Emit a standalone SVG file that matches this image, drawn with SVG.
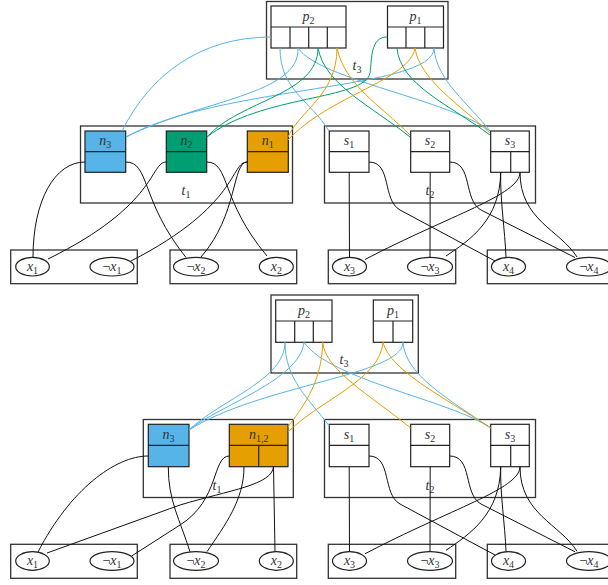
<svg xmlns="http://www.w3.org/2000/svg" width="608" height="585" viewBox="0 0 608 585">
<style>
.gad{fill:none;stroke:#333;stroke-width:1.3}
.box{fill:#fff;stroke:#222;stroke-width:1.2}
.cb{fill:#56B4E9;stroke:#222;stroke-width:1.2}
.cg{fill:#009E73;stroke:#222;stroke-width:1.2}
.co{fill:#E69F00;stroke:#222;stroke-width:1.2}
.ln{fill:none;stroke:#222;stroke-width:1.2}
.lit{fill:#fff;stroke:#222;stroke-width:1.2}
text{font-family:"Liberation Serif","DejaVu Serif",serif;font-size:14px;font-style:italic;fill:#333;text-anchor:middle}
.s{font-size:10px;font-style:normal}
.n{font-style:normal}
.e{fill:none;stroke:#111;stroke-width:1}
.eb{fill:none;stroke:#56B4E9;stroke-width:1}
.eg{fill:none;stroke:#009E73;stroke-width:1}
.eo{fill:none;stroke:#E69F00;stroke-width:1}
</style>
<!-- ===== TOP DIAGRAM ===== -->
<g id="t3a">
<rect class="gad" x="266.5" y="1.5" width="181.5" height="77.5"/>
<text x="357" y="70">t<tspan class="s" dy="3">3</tspan></text>
</g>
<g id="p2a">
<rect class="box" x="271" y="6" width="75" height="42"/>
<line class="ln" x1="271" y1="27" x2="346" y2="27"/>
<line class="ln" x1="290" y1="27" x2="290" y2="48"/>
<line class="ln" x1="308.7" y1="27" x2="308.7" y2="48"/>
<line class="ln" x1="327.3" y1="27" x2="327.3" y2="48"/>
<text x="308.5" y="21">p<tspan class="s" dy="3">2</tspan></text>
</g>
<g id="p1a">
<rect class="box" x="387.5" y="6" width="56" height="42"/>
<line class="ln" x1="387.5" y1="27" x2="443.5" y2="27"/>
<line class="ln" x1="406" y1="27" x2="406" y2="48"/>
<line class="ln" x1="424.8" y1="27" x2="424.8" y2="48"/>
<text x="415.5" y="21">p<tspan class="s" dy="3">1</tspan></text>
</g>
<g id="t1a">
<rect class="gad" x="80.5" y="126" width="212" height="77"/>
<text x="186" y="195">t<tspan class="s" dy="3">1</tspan></text>
</g>
<g id="n3a">
<rect class="cb" x="85" y="131" width="40.7" height="41.3"/>
<line class="ln" x1="85" y1="151.7" x2="125.7" y2="151.7"/>
<text x="105.3" y="145">n<tspan class="s" dy="3">3</tspan></text>
</g>
<g id="n2a">
<rect class="cg" x="166.3" y="131" width="40.4" height="41.3"/>
<line class="ln" x1="166.3" y1="151.7" x2="206.7" y2="151.7"/>
<text x="186.5" y="145">n<tspan class="s" dy="3">2</tspan></text>
</g>
<g id="n1a">
<rect class="co" x="247.3" y="131" width="41" height="41.3"/>
<line class="ln" x1="247.3" y1="151.7" x2="288.3" y2="151.7"/>
<text x="267.8" y="145">n<tspan class="s" dy="3">1</tspan></text>
</g>
<g id="t2a">
<rect class="gad" x="324.5" y="126" width="211" height="77"/>
<text x="430" y="195">t<tspan class="s" dy="3">2</tspan></text>
</g>
<g id="s1a">
<rect class="box" x="329.3" y="131" width="39.7" height="41.3"/>
<line class="ln" x1="329.3" y1="151.7" x2="369" y2="151.7"/>
<text x="349" y="145">s<tspan class="s" dy="3">1</tspan></text>
</g>
<g id="s2a">
<rect class="box" x="410.7" y="131" width="39" height="41.3"/>
<line class="ln" x1="410.7" y1="151.7" x2="449.7" y2="151.7"/>
<text x="430" y="145">s<tspan class="s" dy="3">2</tspan></text>
</g>
<g id="s3a">
<rect class="box" x="490.7" y="131" width="38.6" height="41.3"/>
<line class="ln" x1="490.7" y1="151.7" x2="529.3" y2="151.7"/>
<line class="ln" x1="510.7" y1="151.7" x2="510.7" y2="172.3"/>
<text x="510" y="145">s<tspan class="s" dy="3">3</tspan></text>
</g>
<g id="v1a">
<rect class="gad" x="10.7" y="250" width="126.6" height="33.7"/>
<ellipse class="lit" cx="32.5" cy="266.7" rx="16.8" ry="9.3"/>
<text x="32.5" y="271">x<tspan class="s" dy="3">1</tspan></text>
<ellipse class="lit" cx="112" cy="266.7" rx="22" ry="9.3"/>
<text x="112" y="271"><tspan class="n">¬</tspan>x<tspan class="s" dy="3">1</tspan></text>
</g>
<g id="v2a">
<rect class="gad" x="170" y="250" width="126.7" height="33.7"/>
<ellipse class="lit" cx="196" cy="266.7" rx="22.5" ry="9.3"/>
<text x="196" y="271"><tspan class="n">¬</tspan>x<tspan class="s" dy="3">2</tspan></text>
<ellipse class="lit" cx="276.3" cy="266.7" rx="17" ry="9.3"/>
<text x="276.3" y="271">x<tspan class="s" dy="3">2</tspan></text>
</g>
<g id="v3a">
<rect class="gad" x="328.3" y="250" width="127.4" height="33.7"/>
<ellipse class="lit" cx="349.5" cy="266.7" rx="17" ry="9.3"/>
<text x="349.5" y="271">x<tspan class="s" dy="3">3</tspan></text>
<ellipse class="lit" cx="430" cy="266.7" rx="22.5" ry="9.3"/>
<text x="430" y="271"><tspan class="n">¬</tspan>x<tspan class="s" dy="3">3</tspan></text>
</g>
<g id="v4a">
<rect class="gad" x="487.3" y="250" width="127.4" height="33.7"/>
<ellipse class="lit" cx="508.5" cy="266.7" rx="17" ry="9.3"/>
<text x="508.5" y="271">x<tspan class="s" dy="3">4</tspan></text>
<ellipse class="lit" cx="589" cy="266.7" rx="22.5" ry="9.3"/>
<text x="589" y="271"><tspan class="n">¬</tspan>x<tspan class="s" dy="3">4</tspan></text>
</g>
<g id="edgesA">
<path class="eb" d="M271,37 C200,37 150,75 122,131"/>
<path class="eb" d="M298,48 C300,95 200,100 126,137"/>
<path class="eb" d="M434,48 C434,90 220,85 126,137"/>
<path class="eb" d="M280,48 C280,90 310,100 329,131"/>
<path class="eb" d="M298,48 C320,80 450,100 490,131"/>
<path class="eb" d="M434,48 C436,80 470,105 490,131"/>
<path class="eg" d="M318,48 C318,95 240,100 207,137"/>
<path class="eg" d="M318,48 C325,85 370,105 410,137"/>
<path class="eg" d="M387,37 C370,37 372,60 370,73 C365,100 260,95 207,137"/>
<path class="eg" d="M397,48 C400,85 450,105 490,135"/>
<path class="eo" d="M337,48 C337,95 300,110 288,137"/>
<path class="eo" d="M337,48 C345,85 380,105 410,135"/>
<path class="eo" d="M415,48 C410,80 330,95 288,140"/>
<path class="eo" d="M415,48 C420,80 460,105 490,133"/>
<path class="e" d="M85,162 C55,162 33,200 33,257.4"/>
<path class="e" d="M125.7,162 C150,162 140,200 186,257.5"/>
<path class="e" d="M166.3,162 C150,162 158,205 48,259"/>
<path class="e" d="M247.3,162 C230,162 240,205 131,261"/>
<path class="e" d="M247.3,162 C232,162 238,215 201,257"/>
<path class="e" d="M206.7,162 C230,162 220,200 267,256"/>
<path class="e" d="M349.2,172.3 L349.5,257.4"/>
<path class="e" d="M369,162 C392,162 382,200 400,210 L495,261"/>
<path class="e" d="M430.2,172.3 L430,257.4"/>
<path class="e" d="M449.7,162 C473,162 463,200 481,210 L575,257.5"/>
<path class="e" d="M500.7,172.3 C500,220 470,240 446,256"/>
<path class="e" d="M500.7,172.3 C500,200 505,230 506,257.5"/>
<path class="e" d="M520,172.3 C520,195 450,215 365,259.5"/>
<path class="e" d="M520,172.3 C520,220 560,230 577,257"/>
</g>
<!-- ===== BOTTOM DIAGRAM ===== -->
<g id="t3b">
<rect class="gad" x="271" y="295" width="147.3" height="78"/>
<text x="344" y="364">t<tspan class="s" dy="3">3</tspan></text>
</g>
<g id="p2b">
<rect class="box" x="275.7" y="300" width="56.3" height="42.3"/>
<line class="ln" x1="275.7" y1="321" x2="332" y2="321"/>
<line class="ln" x1="294.7" y1="321" x2="294.7" y2="342.3"/>
<line class="ln" x1="313.3" y1="321" x2="313.3" y2="342.3"/>
<text x="304" y="315">p<tspan class="s" dy="3">2</tspan></text>
</g>
<g id="p1b">
<rect class="box" x="373.3" y="300" width="39.4" height="42.3"/>
<line class="ln" x1="373.3" y1="321" x2="412.7" y2="321"/>
<line class="ln" x1="393" y1="321" x2="393" y2="342.3"/>
<text x="393" y="315">p<tspan class="s" dy="3">1</tspan></text>
</g>
<g id="t1b">
<rect class="gad" x="143.3" y="419.5" width="150" height="78"/>
<text x="217" y="490">t<tspan class="s" dy="3">1</tspan></text>
</g>
<g id="n3b">
<rect class="cb" x="148.3" y="424.3" width="40.7" height="42.4"/>
<line class="ln" x1="148.3" y1="445.3" x2="189" y2="445.3"/>
<text x="168.6" y="439">n<tspan class="s" dy="3">3</tspan></text>
</g>
<g id="n12b">
<rect class="co" x="229.3" y="424.3" width="58.7" height="42.4"/>
<line class="ln" x1="229.3" y1="445.3" x2="288" y2="445.3"/>
<line class="ln" x1="258.7" y1="445.3" x2="258.7" y2="466.7"/>
<text x="258.7" y="439">n<tspan class="s" dy="3">1,2</tspan></text>
</g>
<g id="t2b">
<rect class="gad" x="324.5" y="419.5" width="211" height="78"/>
<text x="430" y="490">t<tspan class="s" dy="3">2</tspan></text>
</g>
<g id="s1b">
<rect class="box" x="329.3" y="424.3" width="39.7" height="42.4"/>
<line class="ln" x1="329.3" y1="445.3" x2="369" y2="445.3"/>
<text x="349" y="439">s<tspan class="s" dy="3">1</tspan></text>
</g>
<g id="s2b">
<rect class="box" x="410.7" y="424.3" width="39" height="42.4"/>
<line class="ln" x1="410.7" y1="445.3" x2="449.7" y2="445.3"/>
<text x="430" y="439">s<tspan class="s" dy="3">2</tspan></text>
</g>
<g id="s3b">
<rect class="box" x="490.7" y="424.3" width="38.6" height="42.4"/>
<line class="ln" x1="490.7" y1="445.3" x2="529.3" y2="445.3"/>
<line class="ln" x1="510.7" y1="445.3" x2="510.7" y2="466.7"/>
<text x="510" y="439">s<tspan class="s" dy="3">3</tspan></text>
</g>
<g id="v1b">
<rect class="gad" x="10.7" y="544.3" width="126.6" height="34"/>
<ellipse class="lit" cx="32.5" cy="561" rx="16.8" ry="9.3"/>
<text x="32.5" y="565">x<tspan class="s" dy="3">1</tspan></text>
<ellipse class="lit" cx="112" cy="561" rx="22" ry="9.3"/>
<text x="112" y="565"><tspan class="n">¬</tspan>x<tspan class="s" dy="3">1</tspan></text>
</g>
<g id="v2b">
<rect class="gad" x="170" y="544.3" width="126.7" height="34"/>
<ellipse class="lit" cx="196" cy="561" rx="22.5" ry="9.3"/>
<text x="196" y="565"><tspan class="n">¬</tspan>x<tspan class="s" dy="3">2</tspan></text>
<ellipse class="lit" cx="276.3" cy="561" rx="17" ry="9.3"/>
<text x="276.3" y="565">x<tspan class="s" dy="3">2</tspan></text>
</g>
<g id="v3b">
<rect class="gad" x="328.3" y="544.3" width="127.4" height="34"/>
<ellipse class="lit" cx="349.5" cy="561" rx="17" ry="9.3"/>
<text x="349.5" y="565">x<tspan class="s" dy="3">3</tspan></text>
<ellipse class="lit" cx="430" cy="561" rx="22.5" ry="9.3"/>
<text x="430" y="565"><tspan class="n">¬</tspan>x<tspan class="s" dy="3">3</tspan></text>
</g>
<g id="v4b">
<rect class="gad" x="487.3" y="544.3" width="127.4" height="34"/>
<ellipse class="lit" cx="508.5" cy="561" rx="17" ry="9.3"/>
<text x="508.5" y="565">x<tspan class="s" dy="3">4</tspan></text>
<ellipse class="lit" cx="589" cy="561" rx="22.5" ry="9.3"/>
<text x="589" y="565"><tspan class="n">¬</tspan>x<tspan class="s" dy="3">4</tspan></text>
</g>
<g id="edgesB">
<path class="eb" d="M285,342.3 C285,380 220,400 189,430"/>
<path class="eb" d="M304,342.3 C300,380 220,405 189,430"/>
<path class="eb" d="M403,342.3 C403,375 260,385 189,430"/>
<path class="eb" d="M285,342.3 C285,380 310,400 329.3,426"/>
<path class="eb" d="M304,342.3 C330,380 450,400 490.7,428"/>
<path class="eb" d="M403,342.3 C405,375 450,400 490.7,428"/>
<path class="eo" d="M322.7,342.3 C322,385 300,410 288,427"/>
<path class="eo" d="M322.7,342.3 C325,370 370,395 410.7,428"/>
<path class="eo" d="M383,342.3 C380,380 320,400 288,432"/>
<path class="eo" d="M383,342.3 C390,370 440,395 490.7,428"/>
<path class="e" d="M148.3,456 C115,456 70,490 38,552"/>
<path class="e" d="M168.3,466.7 C168,500 180,520 190,551.7"/>
<path class="e" d="M229.3,456 C212,456 220,500 180,525 L131.7,556"/>
<path class="e" d="M244,466.7 C244,500 225,525 207,551.7"/>
<path class="e" d="M273.5,466.7 L275,551.7"/>
<path class="e" d="M273.5,466.7 C272,485 230,490 180,505 L47,553"/>
<path class="e" d="M349.2,466.7 L349.5,551.7"/>
<path class="e" d="M369,456 C392,456 382,494 400,504 L495,555"/>
<path class="e" d="M430.2,466.7 L430,551.7"/>
<path class="e" d="M449.7,456 C473,456 463,494 481,504 L575,551.8"/>
<path class="e" d="M500.7,466.7 C500,514 470,534 446,550.3"/>
<path class="e" d="M500.7,466.7 C500,494 505,524 506,551.8"/>
<path class="e" d="M520,466.7 C520,489 450,509 365,553.8"/>
<path class="e" d="M520,466.7 C520,514 560,524 577,551.3"/>
</g>
</svg>
